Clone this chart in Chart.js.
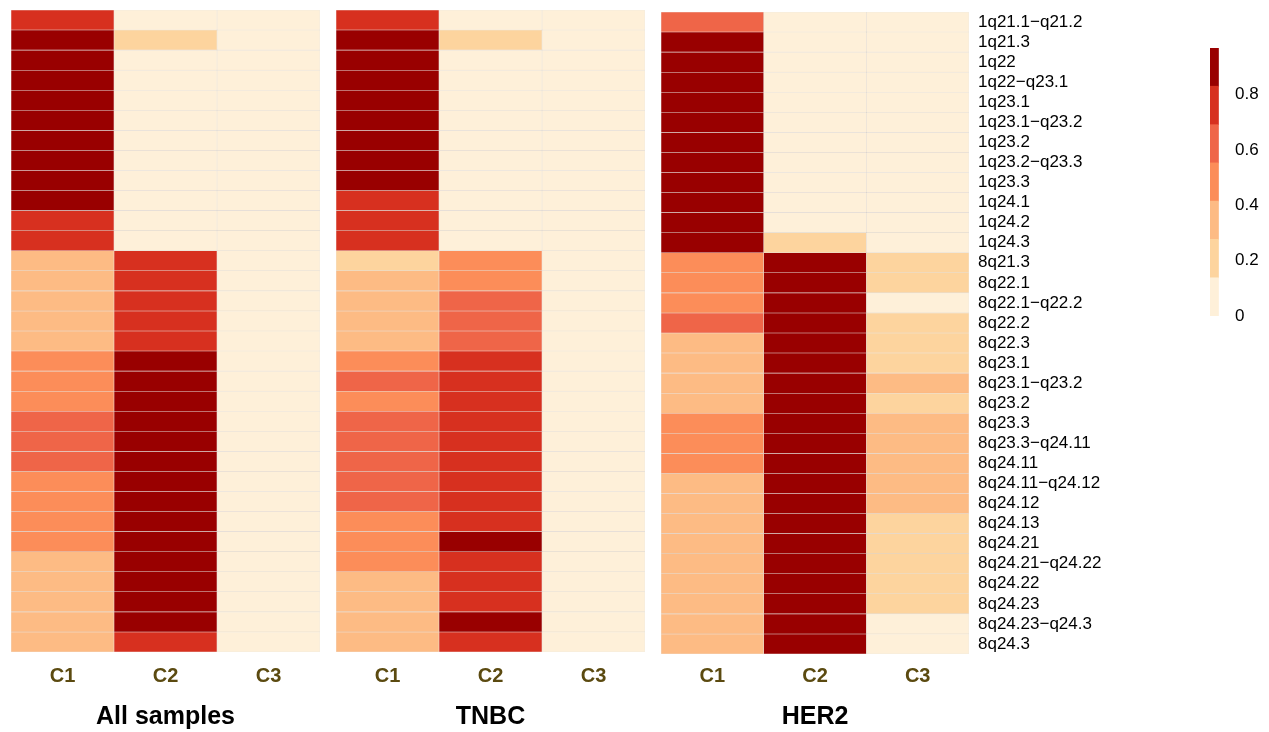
<!DOCTYPE html>
<html>
<head>
<meta charset="utf-8">
<script src="https://cdn.jsdelivr.net/npm/chart.js@4.4.0/dist/chart.umd.min.js"></script>
<style>
  body{margin:0;background:#fff;width:1269px;height:732px;overflow:hidden;position:relative;}
  .box{position:absolute;top:0;}
</style>
</head>
<body>
<div class="box" style="left:11px"><canvas id="all" width="309" height="732"></canvas></div>
<div class="box" style="left:336px"><canvas id="tnbc" width="309" height="732"></canvas></div>
<div class="box" style="left:661px"><canvas id="her2" width="457" height="732"></canvas></div>
<div class="box" style="left:1210px"><canvas id="legend" width="59" height="732"></canvas></div>
<script>
//----- chart data -----//
const regions = ["1q21.1\u2212q21.2","1q21.3","1q22","1q22\u2212q23.1","1q23.1","1q23.1\u2212q23.2",
  "1q23.2","1q23.2\u2212q23.3","1q23.3","1q24.1","1q24.2","1q24.3",
  "8q21.3","8q22.1","8q22.1\u2212q22.2","8q22.2","8q22.3","8q23.1","8q23.1\u2212q23.2","8q23.2",
  "8q23.3","8q23.3\u2212q24.11","8q24.11","8q24.11\u2212q24.12","8q24.12","8q24.13","8q24.21",
  "8q24.21\u2212q24.22","8q24.22","8q24.23","8q24.23\u2212q24.3","8q24.3"];
const clusters = ["C1","C2","C3"];

// All samples
const allC1 = [0.78,0.92,0.93,0.93,0.94,0.94,0.93,0.93,0.92,0.90,0.80,0.78,
  0.36,0.37,0.37,0.38,0.38,0.48,0.50,0.50,0.60,0.62,0.61,0.52,0.50,0.49,0.47,0.40,0.39,0.38,0.37,0.36];
const allC2 = [0.05,0.20,0.04,0.04,0.04,0.04,0.04,0.04,0.04,0.04,0.04,0.04,
  0.78,0.79,0.79,0.78,0.77,0.88,0.90,0.91,0.92,0.93,0.92,0.91,0.90,0.90,0.89,0.90,0.90,0.89,0.88,0.80];
const allC3 = [0.03,0.03,0.03,0.03,0.03,0.03,0.03,0.03,0.03,0.03,0.03,0.03,
  0.03,0.03,0.03,0.03,0.03,0.03,0.03,0.03,0.03,0.03,0.03,0.03,0.03,0.03,0.03,0.03,0.03,0.03,0.03,0.03];

// TNBC
const tnbcC1 = [0.78,0.92,0.93,0.94,0.94,0.94,0.93,0.92,0.90,0.80,0.79,0.78,
  0.24,0.36,0.37,0.37,0.38,0.50,0.60,0.50,0.62,0.63,0.63,0.62,0.60,0.52,0.50,0.49,0.40,0.38,0.37,0.36];
const tnbcC2 = [0.04,0.22,0.03,0.03,0.03,0.03,0.03,0.03,0.03,0.03,0.03,0.03,
  0.50,0.52,0.62,0.64,0.64,0.76,0.78,0.79,0.80,0.80,0.79,0.78,0.78,0.77,0.88,0.78,0.77,0.76,0.86,0.76];
const tnbcC3 = [0.02,0.02,0.02,0.02,0.02,0.02,0.02,0.02,0.02,0.02,0.02,0.02,
  0.02,0.02,0.02,0.02,0.02,0.02,0.02,0.02,0.02,0.02,0.02,0.02,0.02,0.02,0.02,0.02,0.02,0.02,0.02,0.02];

// HER2
const her2C1 = [0.62,0.95,0.96,0.96,0.96,0.96,0.96,0.95,0.95,0.94,0.94,0.93,
  0.50,0.50,0.48,0.60,0.38,0.37,0.37,0.36,0.50,0.52,0.50,0.40,0.38,0.37,0.37,0.36,0.36,0.36,0.35,0.35];
const her2C2 = [0.04,0.04,0.04,0.04,0.04,0.04,0.04,0.04,0.04,0.04,0.04,0.22,
  0.94,0.95,0.95,0.96,0.96,0.96,0.96,0.96,0.96,0.96,0.96,0.96,0.96,0.96,0.95,0.95,0.95,0.95,0.94,0.94];
const her2C3 = [0.03,0.03,0.03,0.03,0.03,0.03,0.03,0.03,0.03,0.03,0.03,0.04,
  0.22,0.24,0.10,0.25,0.24,0.25,0.30,0.26,0.32,0.33,0.33,0.32,0.31,0.24,0.23,0.23,0.22,0.22,0.08,0.07];

//----- colour scale -----//
const legendBreaks = [0, 0.138, 0.277, 0.415, 0.553, 0.691, 0.83, 0.968];
const legendTicks  = [0, 0.2, 0.4, 0.6, 0.8];
const palette = ['#fef0d9','#fdd49e','#fdbb84','#fc8d59','#ef6548','#d7301f','#990000'];

function toColor(v){
  let k = 0;
  while(k < palette.length-1 && v >= legendBreaks[k+1]) k++;
  return palette[k];
}

Chart.defaults.font.family = '"Liberation Sans", Arial, Helvetica, sans-serif';

//----- one heatmap panel -----//
function drawPanel(id, title, columns, showLabels, top){
  const height = 642;
  const datasets = columns.map(function(values, c){
    return {
      label: clusters[c],
      data: regions.map(function(){ return [c, c+1]; }),
      backgroundColor: values.map(toColor),
      borderColor: 'rgba(120,100,80,0.14)',
      borderWidth: 0.6,
      borderSkipped: false,
      grouped: false,
      barPercentage: 1,
      categoryPercentage: 1
    };
  });

  new Chart(document.getElementById(id), {
    type: 'bar',
    data: { labels: regions, datasets: datasets },
    options: {
      indexAxis: 'y',
      responsive: false,
      animation: false,
      layout: { padding: { top: top, left: 0, right: 0, bottom: 0 } },
      plugins: { legend: { display: false }, tooltip: { enabled: false } },
      scales: {
        x: {
          type: 'linear', min: 0, max: 3, position: 'bottom',
          afterBuildTicks: function(s){ s.ticks = [0.5,1.5,2.5].map(function(v){ return {value: v}; }); },
          afterFit: function(s){ s.height = 732 - top - height; s.paddingLeft = 0; s.paddingRight = 0; },
          grid: { display: false }, border: { display: false },
          ticks: {
            autoSkip: false, maxRotation: 0, padding: 14 - top, color: '#5b4a10',
            font: { size: 20, weight: 'bold' },
            callback: function(v){ return clusters[Math.floor(v)]; }
          },
          title: { display: true, text: title, color: '#000', font: { size: 25, weight: 'bold' }, padding: { top: 0, bottom: 0 } }
        },
        y: {
          type: 'category', position: 'right', display: showLabels, offset: true,
          grid: { display: false, drawTicks: false }, border: { display: false },
          ticks: { color: '#000', padding: 9, autoSkip: false, font: { size: 17 } },
          afterFit: function(s){ s.width = showLabels ? 149 : 0; s.paddingTop = 0; s.paddingBottom = 0; }
        }
      }
    }
  });
}

drawPanel('all',  'All samples', [allC1, allC2, allC3],    false, 10);
drawPanel('tnbc', 'TNBC',        [tnbcC1, tnbcC2, tnbcC3], false, 10);
drawPanel('her2', 'HER2',        [her2C1, her2C2, her2C3], true,  12);

//----- colour bar -----//
new Chart(document.getElementById('legend'), {
  type: 'bar',
  data: {
    labels: ['bar'],
    datasets: palette.map(function(col, i){
      return { data: [[legendBreaks[i], legendBreaks[i+1]]], backgroundColor: col,
               borderWidth: 0, grouped: false, barPercentage: 1, categoryPercentage: 1 };
    })
  },
  options: {
    responsive: false,
    animation: false,
    layout: { padding: { top: 48, bottom: 416, left: 0, right: 0 } },
    plugins: { legend: { display: false }, tooltip: { enabled: false } },
    scales: {
      x: { display: false, offset: false },
      y: {
        type: 'linear', min: 0, max: legendBreaks[legendBreaks.length-1], position: 'right',
        afterBuildTicks: function(s){ s.ticks = legendTicks.map(function(v){ return {value: v}; }); },
        afterFit: function(s){ s.width = 42; s.paddingTop = 0; s.paddingBottom = 0; },
        grid: { display: false, drawTicks: false }, border: { display: false },
        ticks: { color: '#000', padding: 8, font: { size: 17 },
                 callback: function(v){ return v === 0 ? '0' : v.toFixed(1); } }
      }
    }
  }
});
</script>
</body>
</html>
